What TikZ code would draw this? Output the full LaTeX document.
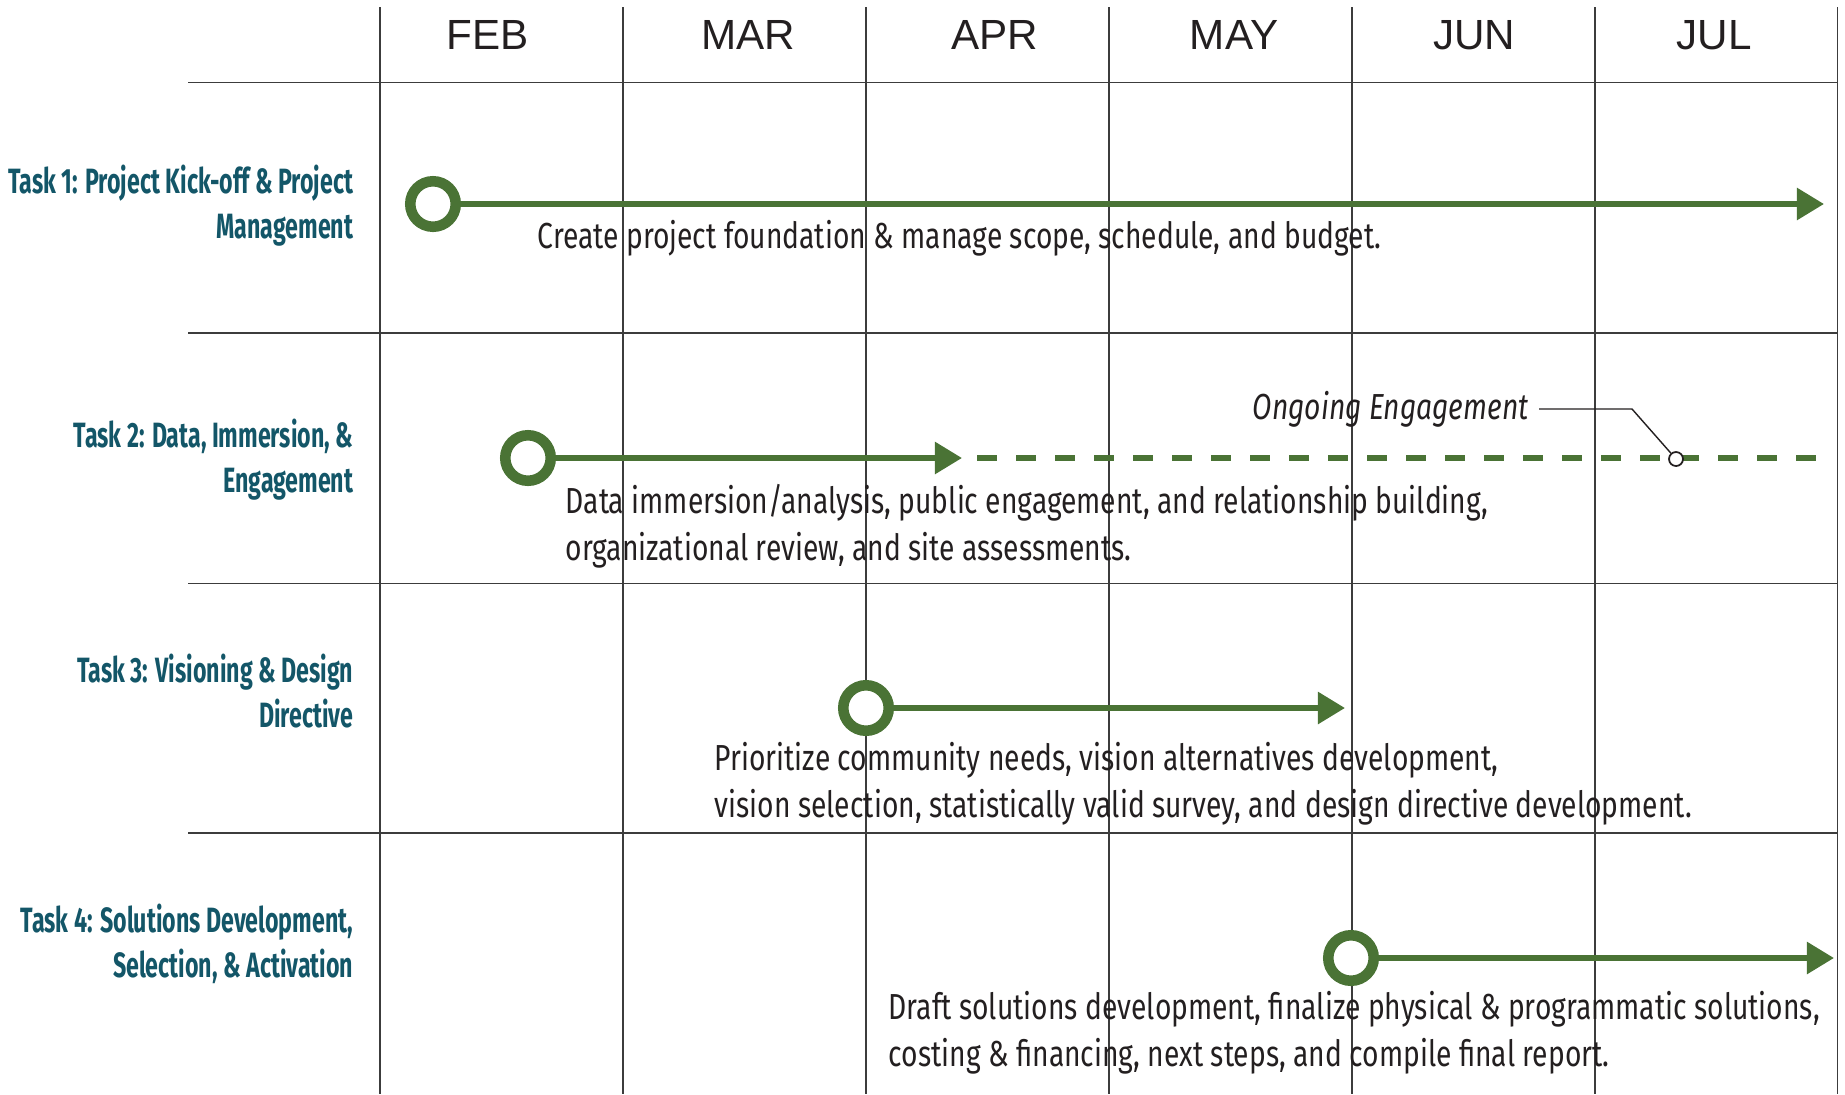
\documentclass[tikz,border=0pt]{standalone}
\usepackage{fontspec}
\usetikzlibrary{arrows.meta}
\newfontfamily\monthfont{Liberation Sans}
\newfontfamily\descfont{Fira Sans}[FakeStretch=0.78]
\newfontfamily\taskfont{Fira Sans}[FakeStretch=0.66]
\definecolor{barGreen}{HTML}{4A7335}
\definecolor{taskTeal}{HTML}{135668}
\definecolor{inkGray}{HTML}{231F20}
\definecolor{gridGray}{HTML}{3C3C3C}
\begin{document}
\begin{tikzpicture}
  \useasboundingbox (0,0) rectangle (18.45,-10.94);
  \tikzstyle{month}=[font=\monthfont\fontsize{12}{14}\selectfont, text=inkGray]
  \tikzstyle{task}=[font=\taskfont\bfseries\fontsize{10}{12.8}\selectfont, text=taskTeal, align=right, anchor=base east, inner sep=0pt]
  \tikzstyle{desc}=[font=\descfont\fontsize{10.3}{13.1}\selectfont, text=inkGray, align=left, anchor=base west, inner sep=0pt]
  \tikzstyle{start}=[circle, draw=barGreen, line width=3pt, minimum size=0.455cm, inner sep=0pt, fill=white]
  \tikzstyle{arr}=[draw=barGreen, line width=1.7pt, -{Triangle[length=7.7pt, width=8.8pt]}]
  \tikzstyle{ongoing}=[draw=barGreen, line width=1.5pt, dash pattern=on 5.7pt off 5.4pt]
  \tikzstyle{leader}=[draw=inkGray, line width=0.4pt]

  % Raster: Monatsspalten und Zeilen
  \foreach \x in {3.80, 6.23, 8.66, 11.09, 13.52, 15.95, 18.37}
    \draw[gridGray, line width=0.3pt] (\x,-0.07) -- (\x,-10.94);
  \foreach \y in {-0.824, -3.33, -5.836, -8.33}
    \draw[gridGray, line width=0.4pt] (1.88,\y) -- (18.37,\y);

  \node[month] (feb) at (4.88, -0.35) {FEB};
  \node[month] (mar) at (7.48, -0.35) {MAR};
  \node[month] (apr) at (9.95, -0.35) {APR};
  \node[month] (may) at (12.34,-0.35) {MAY};
  \node[month] (jun) at (14.74,-0.35) {JUN};
  \node[month] (jul) at (17.14,-0.35) {JUL};

  % base = Grundlinie der letzten Zeile
  \node[task] (task1) at (3.54,-2.38) {Task 1: Project Kick-off \& Project\\Management};
  \node[task] (task2) at (3.54,-4.925) {Task 2: Data, Immersion, \&\\Engagement};
  \node[task] (task3) at (3.54,-7.27) {Task 3: Visioning \& Design\\Directive};
  \node[task] (task4) at (3.54,-9.77) {Task 4: Solutions Development,\\Selection, \& Activation};

  \node[start] (s1) at (4.33, -2.04) {};
  \node[start] (s2) at (5.28, -4.58) {};
  \node[start] (s3) at (8.66, -7.08) {};
  \node[start] (s4) at (13.51,-9.58) {};

  \coordinate (e1) at (18.24,-2.04);
  \coordinate (m2) at (9.62, -4.58);
  \coordinate (d2) at (9.77, -4.58);
  \coordinate (e2) at (18.33,-4.58);
  \coordinate (e3) at (13.45,-7.08);
  \coordinate (e4) at (18.34,-9.58);
  \coordinate (kink) at (16.32,-4.09);

  \path (s1) edge[arr] (e1);
  \path (s2) edge[arr] (m2);
  \path (d2) edge[ongoing] (e2);
  \path (s3) edge[arr] (e3);
  \path (s4) edge[arr] (e4);

  \node[circle, draw=inkGray, line width=0.5pt, fill=white, minimum size=0.14cm, inner sep=0pt] (mk) at (16.76,-4.59) {};
  \node[font=\descfont\itshape\fontsize{10.3}{13.1}\selectfont, text=inkGray, anchor=east, inner sep=0pt, inner xsep=2.8pt] (ong) at (15.39,-4.09) {Ongoing Engagement};
  \draw[leader] (mk) -- (kink) -- (ong.east);

  \node[desc] (desc1) at (5.37,-2.48) {Create project foundation \& manage scope, schedule, and budget.};
  \node[desc] (desc2) at (5.65,-5.60) {Data immersion/analysis, public engagement, and relationship building,\\organizational review, and site assessments.};
  \node[desc] (desc3) at (7.14,-8.17) {Prioritize community needs, vision alternatives development,\\vision selection, statistically valid survey, and design directive development.};
  \node[desc] (desc4) at (8.88,-10.66) {Draft solutions development, finalize physical \& programmatic solutions,\\costing \& financing, next steps, and compile final report.};
\end{tikzpicture}
\end{document}
